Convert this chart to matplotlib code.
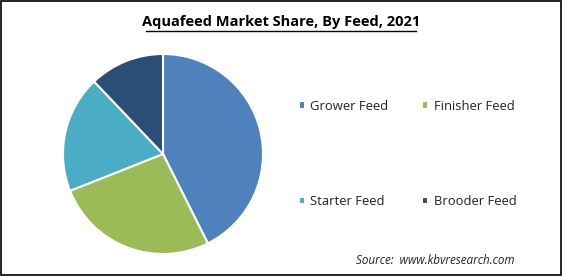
import matplotlib.pyplot as plt
from matplotlib.patches import Rectangle

# slice shares (percent)
labels = ['Grower Feed', 'Finisher Feed', 'Starter Feed', 'Brooder Feed']
shares = [42.6, 26.4, 18.9, 12.1]
colors = ['#4F81BD', '#9BBB59', '#4BACC6', '#2C4D75']

plt.rcParams['font.family'] = ['Open Sans', 'DejaVu Sans']

fig = plt.figure(figsize=(5.62, 2.76), dpi=100)

# pie axes: center ~ (163, 154) px, radius ~100 px
ax = fig.add_axes([63 / 562, 1 - 254 / 276, 200 / 562, 200 / 276])
wedges, _ = ax.pie(shares, colors=colors, startangle=90, counterclock=False,
                   radius=1, wedgeprops=dict(edgecolor='white', linewidth=1.5))
ax.set_xlim(-1.0, 1.0)
ax.set_ylim(-1.0, 1.0)
ax.set_aspect('equal')

# title, bold and underlined
fig.text(0.5, 1 - 22 / 276, 'Aquafeed Market Share, By Feed, 2021',
         ha='center', va='center', fontsize=10.5, fontweight='bold')
fig.add_artist(plt.Line2D([146 / 562, 416 / 562], [1 - 31 / 276, 1 - 31 / 276],
                          color='black', linewidth=1))

# legend laid out row-wise: Grower / Finisher on top, Starter / Brooder below
order = [0, 2, 1, 3]
leg = fig.legend([wedges[i] for i in order], [labels[i] for i in order],
                 ncol=2, loc='upper left',
                 bbox_to_anchor=(287 / 562, 1 - 88 / 276),
                 frameon=False, fontsize=9.4, handlelength=0.5, handleheight=0.5,
                 handletextpad=0.4, columnspacing=2.55, labelspacing=6.3)
for t in leg.get_texts():
    t.set_color('#222222')

fig.text(515 / 562, 1 - 260 / 276, 'Source:  www.kbvresearch.com',
         ha='right', va='center', fontsize=8.4, style='italic', color='#222222')

# outer border
fig.add_artist(Rectangle((0.002, 0.004), 0.996, 0.992, transform=fig.transFigure,
                         fill=False, edgecolor='black', linewidth=1.2))

fig.savefig('out.png', dpi=100)
